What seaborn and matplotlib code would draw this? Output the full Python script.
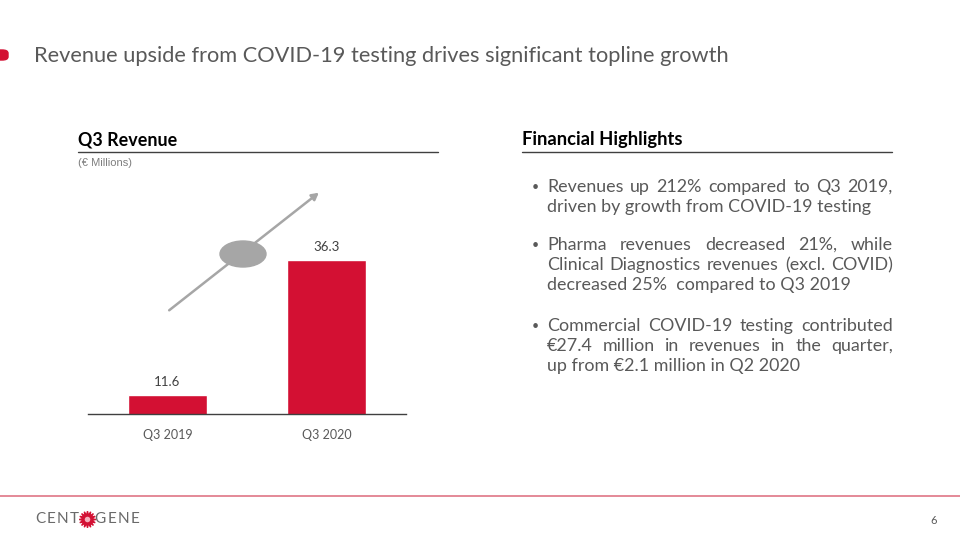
"""
Q3 revenue slide: bar chart + financial highlights text
"""

import matplotlib
matplotlib.use("Agg")
import matplotlib.pyplot as plt
from matplotlib.patches import Ellipse, FancyBboxPatch, FancyArrowPatch
import seaborn as sns
import pandas as pd

# ============================================================================
# DATA
# ============================================================================

quarters = ["Q3 2019", "Q3 2020"]
revenue = [11.6, 36.3]

slide_title = "Revenue upside from COVID-19 testing drives significant topline growth"
chart_title = "Q3 Revenue"
chart_unit = "(€ Millions)"
text_title = "Financial Highlights"

# each paragraph: list of lines as laid out on the slide
highlights = [
    ["Revenues up 212% compared to Q3 2019,",
     "driven by growth from COVID-19 testing"],
    ["Pharma revenues decreased 21%, while",
     "Clinical Diagnostics revenues (excl. COVID)",
     "decreased 25%  compared to Q3 2019"],
    ["Commercial COVID-19 testing contributed",
     "€27.4 million in revenues in the quarter,",
     "up from €2.1 million in Q2 2020"],
]
page_number = "6"

# ============================================================================
# STYLE
# ============================================================================

sns.set_style("white")
plt.rcParams['font.family'] = ['Lato', 'DejaVu Sans']

RED = "#D31033"
GRAY = "#595959"
W, H = 960, 540


def fx(x):
    return x / W


def fy(y):
    return 1 - y / H


fig = plt.figure(figsize=(9.6, 5.4), dpi=100)
renderer = fig.canvas.get_renderer()

# ============================================================================
# SLIDE HEADER
# ============================================================================

fig.patches.append(FancyBboxPatch((fx(-6), fy(60)), fx(14), 10 / H,
                                  boxstyle="round,pad=0,rounding_size=0.006",
                                  transform=fig.transFigure, color=RED))
fig.text(fx(34), fy(56), slide_title, fontsize=15.7, color=GRAY, va="center")

# ============================================================================
# BAR CHART
# ============================================================================

df = pd.DataFrame({"quarter": quarters, "revenue": revenue})

ax = fig.add_axes([fx(88), fy(414), fx(406) - fx(88), (414 - 180) / H])
sns.barplot(data=df, x="quarter", y="revenue", color=RED, width=0.5,
            saturation=1, ax=ax)
ax.set_xlim(-0.5, 1.5)
ax.set_ylim(8.1, 50.9)
ax.bar_label(ax.containers[0], fmt="%.1f", padding=5, fontsize=9.5, color="#404040")
ax.set_xlabel("")
ax.set_ylabel("")
ax.set_yticks([])
for side in ["top", "left", "right"]:
    ax.spines[side].set_visible(False)
ax.spines["bottom"].set_color("#404040")
ax.spines["bottom"].set_linewidth(1.0)
ax.tick_params(axis="x", length=0, pad=11, labelsize=9, labelcolor=GRAY)
ax.patch.set_alpha(0)

# growth arrow with empty gray bubble
fig.patches.append(FancyArrowPatch(
    (fx(167), fy(312)), (fx(321), fy(191)), transform=fig.transFigure,
    arrowstyle="-|>,head_length=4,head_width=2.2", color="#A6A6A6", lw=1.8))
fig.patches.append(Ellipse((fx(243), fy(254)), 46 / W, 26 / H,
                           transform=fig.transFigure, color="#A6A6A6"))

# chart header
fig.text(fx(78), fy(140), chart_title, fontsize=12.9, fontweight="bold",
         color="black", va="center")
fig.add_artist(plt.Line2D([fx(78), fx(438)], [fy(152), fy(152)],
                          color="#404040", lw=1.0, transform=fig.transFigure))
fig.text(fx(78), fy(163), chart_unit, fontsize=8, color="#7F7F7F",
         va="center", family="Liberation Sans")

# ============================================================================
# FINANCIAL HIGHLIGHTS
# ============================================================================

fig.text(fx(522), fy(140), text_title, fontsize=13.2, fontweight="bold",
         color="black", va="center")
fig.add_artist(plt.Line2D([fx(522), fx(892)], [fy(152), fy(152)],
                          color="#404040", lw=1.0, transform=fig.transFigure))

left, right = 547, 893
fs = 12.9
para_top = [187, 245, 326]
line_gap = 20

for p, lines in enumerate(highlights):
    y0 = para_top[p]
    fig.text(fx(532), fy(y0), "•", fontsize=9, color=GRAY, va="center")
    for i, line in enumerate(lines):
        y = y0 + i * line_gap
        last = i == len(lines) - 1
        if last:
            fig.text(fx(left), fy(y), line, fontsize=fs, color=GRAY, va="center")
            continue
        # justify: spread words across the full column width
        words = line.split()
        arts = [fig.text(0, fy(y), w, fontsize=fs, color=GRAY, va="center")
                for w in words]
        widths = [a.get_window_extent(renderer).width for a in arts]
        gap = (right - left - sum(widths)) / (len(words) - 1)
        x = left
        for a, wdt in zip(arts, widths):
            a.set_x(fx(x))
            x += wdt + gap

# ============================================================================
# FOOTER
# ============================================================================

fig.add_artist(plt.Line2D([0, 1], [fy(496), fy(496)], color="#E2808F",
                          lw=1.3, transform=fig.transFigure))
logo_kw = dict(fontsize=11, color="#6A6A6A", va="center", family="Lato")
x = 35
for ch in "CENT":
    t = fig.text(fx(x), fy(519), ch, **logo_kw)
    x += t.get_window_extent(renderer).width + 1.5
# red sunburst in place of the O
fig.add_artist(plt.Line2D([fx(x + 6)], [fy(519)], marker=(16, 1, 0),
                          markersize=12, color=RED, transform=fig.transFigure))
fig.add_artist(plt.Line2D([fx(x + 6)], [fy(519)], marker="o",
                          markersize=4, color="#F4B0BC", mec="none",
                          transform=fig.transFigure))
x += 14
for ch in "GENE":
    t = fig.text(fx(x), fy(519), ch, **logo_kw)
    x += t.get_window_extent(renderer).width + 1.5
fig.text(fx(930), fy(521), page_number, fontsize=8, color=GRAY, va="center")

plt.savefig("out.png", dpi=100)
